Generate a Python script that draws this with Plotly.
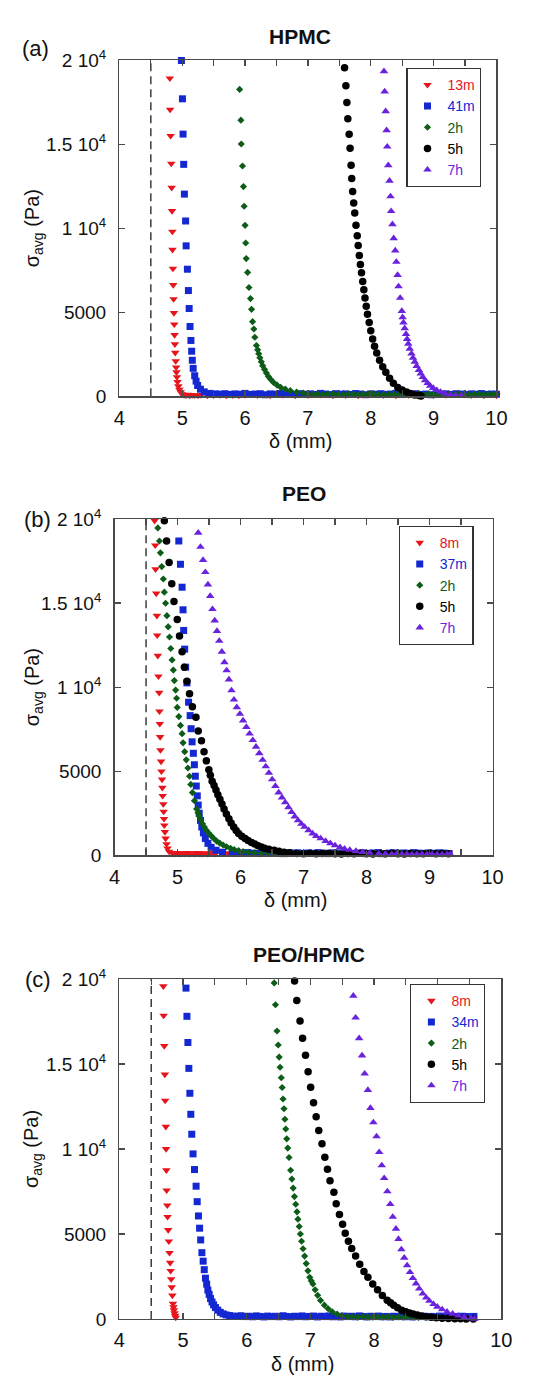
import plotly.graph_objects as go

# ---------------- data (delta in mm, sigma_avg in Pa) ----------------
x_range = [4, 10]
y_range = [0, 20000]
y_tick_vals = [0, 5000, 10000, 15000, 20000]
y_tick_text = ["0", "5000", "1 10<sup>4</sup>", "1.5 10<sup>4</sup>", "2 10<sup>4</sup>"]
ref_delta = 4.5

panel_titles = ["HPMC", "PEO", "PEO/HPMC"]
panel_tags = ["(a)", "(b)", "(c)"]
labels_a = ["13m", "41m", "2h", "5h", "7h"]
labels_b = ["8m", "37m", "2h", "5h", "7h"]
labels_c = ["8m", "34m", "2h", "5h", "7h"]

# ---- (a) HPMC ----
hpmc_13m = [(4.803,18920),(4.807,17060),(4.815,15500),(4.825,13850),(4.832,12410),(4.838,11030),(4.843,9800),
            (4.845,8720),(4.852,7600),(4.857,6620),(4.862,5780),(4.868,4960),(4.873,4280),(4.878,3650),(4.883,3100),
            (4.889,2590),(4.896,2090),(4.903,1720),(4.909,1430),(4.916,1140),(4.925,860),(4.938,600),(4.955,400),
            (4.975,240),(5.0,130),(5.03,80),(5.06,60),(5.09,90),(5.12,50),(5.16,70),(5.2,60),(5.25,40),(5.3,80),
            (5.4,50),(5.5,60),(5.6,70),(5.7,40),(5.8,60),(5.9,50),(6.0,80),(6.2,60),(6.4,40),(6.6,70),(6.8,50),
            (7.0,60),(7.2,90),(7.4,50),(7.6,60),(7.8,40),(8.0,120),(8.2,60),(8.4,40),(8.6,80),(8.8,50),(9.0,60),
            (9.2,70),(9.4,110),(9.6,60),(9.8,50),(10.0,40)]
hpmc_41m = [(4.987,19980),(5.003,17700),(5.013,15600),(5.023,13800),(5.034,12030),(5.054,10430),(5.062,8950),
            (5.082,7560),(5.098,6290),(5.11,5220),(5.124,4150),(5.138,3320),(5.15,2680),(5.16,2140),(5.174,1660),
            (5.198,1220),(5.22,900),(5.245,640),(5.29,420),(5.35,260),(5.43,170),(5.53,140),(5.6,120),(5.68,150),
            (5.76,110),(5.84,140),(5.92,120),(6.0,170),(6.08,110),(6.16,130),(6.24,150),(6.32,90),(6.4,140),
            (6.48,120),(6.56,160),(6.64,110),(6.72,130),(6.8,100),(6.88,150),(6.96,120),(7.04,140),(7.12,110),
            (7.2,170),(7.28,130),(7.36,100),(7.44,150),(7.52,120),(7.6,140),(7.68,110),(7.76,160),(7.84,130),
            (7.92,90),(8.0,140),(8.08,120),(8.16,150),(8.24,110),(8.32,130),(8.4,170),(8.48,100),(8.56,140),
            (8.64,120),(8.72,150),(8.8,110),(8.88,130),(8.96,90),(9.04,160),(9.12,120),(9.2,140),(9.28,110),
            (9.36,150),(9.44,130),(9.52,100),(9.6,140),(9.68,120),(9.76,160),(9.84,110),(9.92,130),(10.0,120)]
hpmc_2h = [(5.913,18260),(5.933,16430),(5.939,15010),(5.959,13700),(5.974,12475),(5.985,11306),(6.0,10170),
           (6.01,9120),(6.018,8190),(6.04,7370),(6.062,6470),(6.086,5810),(6.103,5170),(6.119,4440),(6.139,4000),
           (6.155,3510),(6.181,3020),(6.2,2760),(6.217,2530),(6.235,2290),(6.258,2050),(6.28,1820),(6.309,1600),
           (6.34,1380),(6.371,1170),(6.41,990),(6.453,820),(6.51,660),(6.566,530),(6.64,420),(6.72,330),(6.82,250),
           (6.926,195),(7.0,150),(7.08,110),(7.16,140),(7.24,100),(7.32,130),(7.4,150),(7.48,110),(7.56,90),
           (7.64,140),(7.72,120),(7.8,100),(7.88,130),(7.96,110),(8.04,150),(8.12,90),(8.2,120),(8.28,100),
           (8.36,140),(8.44,110),(8.52,130),(8.6,90),(8.68,120),(8.76,150),(8.84,100),(8.92,130),(9.0,110),
           (9.08,90),(9.16,140),(9.24,120),(9.32,100),(9.4,130),(9.48,110),(9.56,90),(9.64,120),(9.72,140),
           (9.8,100),(9.88,130),(9.96,110),(10.0,120)]
hpmc_5h = [(7.583,19550),(7.604,18480),(7.62,17485),(7.635,16510),(7.656,15595),(7.671,14756),(7.687,13743),
           (7.697,12965),(7.712,12185),(7.728,11503),(7.745,10900),(7.765,10180),(7.785,9550),(7.8,8965),
           (7.818,8380),(7.835,7836),(7.853,7349),(7.872,6823),(7.89,6336),(7.908,5848),(7.928,5361),(7.948,4873),
           (7.975,4386),(8.0,3899),(8.03,3411),(8.06,2982),(8.095,2573),(8.14,2144),(8.19,1754),(8.24,1423),
           (8.3,1072),(8.36,780),(8.43,526),(8.5,370),(8.57,250),(8.63,160),(8.7,80),(8.77,40),(8.8,20)]
hpmc_7h = [(8.21,19339),(8.221,18129),(8.237,16959),(8.252,15829),(8.262,14854),(8.278,13743),(8.298,12824),
           (8.314,11888),(8.324,11011),(8.345,10234),(8.365,9400),(8.39,8673),(8.407,7993),(8.427,7212),
           (8.442,6532),(8.468,5848),(8.494,5068),(8.507,4700),(8.52,4386),(8.54,4040),(8.561,3703),(8.578,3400),
           (8.597,3118),(8.62,2820),(8.648,2534),(8.672,2280),(8.7,2047),(8.73,1800),(8.766,1559),(8.795,1340),
           (8.828,1131),(8.865,950),(8.905,780),(8.945,620),(8.993,487),(9.05,360),(9.11,253),(9.18,160),
           (9.265,97),(9.35,60),(9.445,39)]

# ---- (b) PEO ----
peo_8m = [(4.636,19901),(4.646,18440),(4.651,17018),(4.662,15575),(4.672,14250),(4.677,13080),(4.687,11871),
          (4.697,10643),(4.708,9669),(4.713,8558),(4.718,7817),(4.723,7037),(4.728,6257),(4.738,5575),(4.744,4990),
          (4.754,4503),(4.759,4016),(4.764,3528),(4.774,3041),(4.779,2593),(4.785,2164),(4.79,1774),(4.8,1384),
          (4.81,994),(4.826,663),(4.841,409),(4.866,214),(4.918,117),(4.95,90),(4.99,130),(5.03,80),(5.07,120),
          (5.11,100),(5.15,140),(5.19,90),(5.23,120),(5.27,80),(5.31,130),(5.35,100),(5.39,90),(5.43,120),
          (5.47,80),(5.51,110),(5.55,130),(5.6,90),(5.7,100),(5.8,120),(5.9,80),(6.0,110),(6.15,130),(6.3,90),
          (6.45,100),(6.6,120),(6.75,80),(6.9,140),(7.05,90),(7.2,110),(7.35,130),(7.5,80),(7.65,100),(7.8,120),
          (7.95,90),(8.1,150),(8.25,100),(8.4,80),(8.55,130),(8.7,110),(8.85,90),(9.0,120),(9.15,100),(9.3,110)]
peo_37m = [(5.02,18696),(5.046,17310),(5.072,15945),(5.087,14600),(5.097,13372),(5.113,12261),(5.128,11187),
           (5.149,10253),(5.175,9100),(5.2,8304),(5.215,7524),(5.231,6744),(5.251,6062),(5.267,5380),(5.282,4698),
           (5.297,4113),(5.313,3528),(5.328,2982),(5.344,2495),(5.364,2066),(5.385,1676),(5.41,1325),(5.441,994),
           (5.482,702),(5.533,468),(5.61,292),(5.713,175),(5.867,117),(5.95,130),(6.03,110),(6.11,150),(6.19,120),
           (6.27,100),(6.35,140),(6.43,160),(6.51,110),(6.59,130),(6.67,90),(6.75,150),(6.83,120),(6.91,140),
           (6.99,100),(7.07,130),(7.15,110),(7.23,150),(7.31,120),(7.39,90),(7.47,140),(7.55,130),(7.63,110),
           (7.71,160),(7.79,100),(7.87,120),(7.95,140),(8.03,110),(8.11,130),(8.19,150),(8.27,90),(8.35,120),
           (8.43,140),(8.51,100),(8.59,130),(8.67,110),(8.75,150),(8.83,120),(8.91,100),(8.99,130),(9.07,110),
           (9.15,140),(9.23,120),(9.31,100)]
peo_2h = [(4.687,19474),(4.713,18696),(4.728,17992),(4.749,17173),(4.774,16433),(4.79,15653),(4.81,14990),
          (4.831,14250),(4.851,13587),(4.872,12982),(4.892,12300),(4.913,11618),(4.933,11014),(4.949,10390),
          (4.969,9825),(4.985,9337),(4.995,8791),(5.02,8245),(5.046,7719),(5.072,7232),(5.087,6686),(5.113,6160),
          (5.138,5673),(5.164,5185),(5.19,4698),(5.21,4211),(5.236,3723),(5.267,3236),(5.303,2749),(5.325,2520),
          (5.344,2320),(5.37,2090),(5.395,1871),(5.425,1670),(5.457,1481),(5.495,1310),(5.533,1150),(5.575,990),
          (5.62,838),(5.67,715),(5.723,604),(5.78,500),(5.841,409),(5.9,335),(5.969,273),(6.04,220),(6.123,175),
          (6.22,140),(6.328,117),(6.43,130),(6.53,100),(6.63,120),(6.73,90),(6.83,140),(6.93,110),(7.03,100),
          (7.13,130),(7.23,90),(7.33,120),(7.43,100),(7.53,140),(7.63,110),(7.73,90),(7.83,130),(7.93,120),
          (8.03,100),(8.13,110),(8.23,140),(8.33,90),(8.43,120),(8.53,130),(8.63,100),(8.73,110),(8.83,90),
          (8.93,140),(9.03,120),(9.13,100),(9.23,130),(9.3,110)]
peo_5h = [(4.79,19900),(4.826,18696),(4.866,17409),(4.908,16158),(4.943,15088),(4.995,14018),(5.031,13041),
          (5.072,12105),(5.108,11187),(5.149,10351),(5.19,9608),(5.236,8830),(5.292,8205),(5.328,7386),
          (5.38,6801),(5.42,6158),(5.457,5614),(5.497,5088),(5.52,4750),(5.549,4404),(5.58,4140),(5.61,3877),
          (5.64,3600),(5.672,3333),(5.705,3040),(5.738,2749),(5.775,2450),(5.815,2164),(5.85,1910),(5.892,1676),
          (5.93,1470),(5.969,1287),(6.02,1130),(6.072,994),(6.12,870),(6.174,760),(6.225,660),(6.277,567),
          (6.33,485),(6.38,409),(6.45,350),(6.534,292),(6.61,230),(6.688,175),(6.78,140),(6.892,99),(7.0,90),
          (7.1,110),(7.2,80),(7.3,100),(7.4,120),(7.5,90),(7.6,70),(7.7,100),(7.8,80),(7.9,110),(8.0,90),
          (8.1,70),(8.2,100),(8.3,80),(8.4,110),(8.5,90),(8.6,70),(8.7,100),(8.8,80),(8.9,90),(9.0,110),
          (9.1,80),(9.2,100),(9.3,90)]
peo_7h = [(5.328,19181),(5.364,18345),(5.405,17563),(5.441,16842),(5.482,16100),(5.518,15419),(5.554,14637),
          (5.59,13957),(5.626,13333),(5.662,12749),(5.703,12105),(5.744,11480),(5.779,10994),(5.815,10448),
          (5.856,9805),(5.895,9250),(5.94,8800),(5.99,8403),(6.04,8010),(6.092,7620),(6.143,7230),(6.194,6842),
          (6.245,6450),(6.297,6064),(6.35,5670),(6.4,5281),(6.45,4890),(6.502,4503),(6.553,4110),(6.605,3725),
          (6.657,3430),(6.708,3140),(6.76,2850),(6.81,2555),(6.86,2300),(6.912,2064),(6.965,1860),(7.015,1676),
          (7.08,1480),(7.143,1287),(7.2,1130),(7.271,994),(7.35,840),(7.425,702),(7.5,580),(7.579,468),
          (7.65,380),(7.733,310),(7.83,240),(7.938,175),(8.05,130),(8.194,99),(8.3,80),(8.4,60),(8.48,70),
          (8.56,50),(8.64,60),(8.72,40),(8.8,60),(8.88,50),(8.96,40),(9.04,60),(9.12,50),(9.2,40),(9.28,60),
          (9.33,50)]

# ---- (c) PEO/HPMC ----
mix_8m = [(4.69,19577),(4.695,17846),(4.705,16058),(4.714,14385),(4.719,12846),(4.729,11308),(4.733,10000),
          (4.738,8750),(4.742,7570),(4.752,6686),(4.757,6012),(4.767,5241),(4.777,4567),(4.787,3893),(4.797,3314),
          (4.805,2832),(4.813,2350),(4.822,1870),(4.832,1387),(4.842,906),(4.85,700),(4.857,520),(4.866,350),
          (4.875,193),(4.885,80)]
mix_34m = [(5.046,19462),(5.061,17803),(5.076,16262),(5.091,14740),(5.107,13276),(5.122,12040),(5.137,10867),
           (5.157,9711),(5.18,8790),(5.205,7810),(5.222,6900),(5.242,6060),(5.26,5340),(5.277,4650),(5.296,3900),
           (5.316,3400),(5.333,2900),(5.352,2400),(5.371,2050),(5.39,1700),(5.41,1450),(5.432,1200),(5.455,1000),
           (5.48,830),(5.51,670),(5.545,520),(5.585,390),(5.63,300),(5.676,240),(5.73,200),(5.79,170),(5.85,150),
           (5.91,190),(5.97,140),(6.03,160),(6.09,130),(6.15,180),(6.21,150),(6.27,120),(6.33,170),(6.39,140),
           (6.45,160),(6.51,130),(6.57,190),(6.63,150),(6.69,120),(6.75,160),(6.81,140),(6.87,180),(6.93,130),
           (6.99,150),(7.05,170),(7.11,120),(7.17,160),(7.23,140),(7.29,180),(7.35,130),(7.41,150),(7.47,120),
           (7.53,170),(7.59,140),(7.65,160),(7.71,130),(7.77,180),(7.83,150),(7.89,120),(7.95,160),(8.01,140),
           (8.07,170),(8.13,130),(8.19,150),(8.25,120),(8.31,160),(8.37,140),(8.43,180),(8.49,130),(8.55,150),
           (8.61,120),(8.67,170),(8.73,140),(8.79,160),(8.85,130),(8.91,150),(8.97,120),(9.03,170),(9.09,140),
           (9.15,160),(9.21,130),(9.27,150),(9.33,120),(9.39,160),(9.45,140),(9.51,130),(9.57,150)]
mix_2h = [(6.432,19769),(6.452,18481),(6.476,16942),(6.495,16115),(6.51,15404),(6.524,14808),(6.543,14192),
          (6.557,13615),(6.571,12942),(6.586,12365),(6.6,11750),(6.614,11173),(6.629,10596),(6.645,10050),
          (6.665,9500),(6.69,8750),(6.71,8230),(6.73,7700),(6.75,7200),(6.77,6750),(6.79,6300),(6.805,5870),
          (6.825,5440),(6.843,5000),(6.862,4570),(6.885,4130),(6.91,3700),(6.935,3260),(6.962,2830),(6.99,2450),
          (7.015,2240),(7.04,2060),(7.075,1720),(7.115,1390),(7.16,1090),(7.22,810),(7.28,600),(7.345,424),
          (7.42,290),(7.497,193),(7.58,150),(7.66,130),(7.74,110),(7.82,140),(7.9,120),(7.98,100),(8.06,130),
          (8.14,110),(8.22,140),(8.3,90),(8.38,120),(8.46,100),(8.54,130),(8.62,110),(8.7,90)]
mix_5h = [(6.752,19884),(6.787,18728),(6.838,17532),(6.878,16515),(6.924,15511),(6.965,14549),(7.005,13624),
          (7.05,12717),(7.091,11890),(7.132,11081),(7.183,10306),(7.228,9520),(7.269,8804),(7.309,8132),
          (7.37,7457),(7.406,6781),(7.457,6146),(7.507,5566),(7.548,5046),(7.598,4566),(7.65,4143),(7.711,3699),
          (7.776,3218),(7.842,2793),(7.904,2447),(7.98,2062),(8.056,1715),(8.132,1387),(8.208,1098),(8.26,950),
          (8.31,809),(8.37,660),(8.436,520),(8.5,420),(8.56,350),(8.614,289),(8.68,230),(8.75,180),(8.817,135),
          (8.9,100),(8.98,70),(9.071,39),(9.17,25),(9.27,15),(9.36,8),(9.45,0),(9.56,0)]
mix_7h = [(7.675,19012),(7.711,17726),(7.766,16512),(7.812,15491),(7.853,14432),(7.904,13468),(7.944,12409),
          (7.99,11561),(8.04,10735),(8.081,9810),(8.122,9035),(8.16,8280),(8.21,7500),(8.255,6750),(8.295,6000),
          (8.345,5300),(8.385,4700),(8.43,4090),(8.475,3600),(8.52,3150),(8.565,2750),(8.61,2400),(8.66,2080),
          (8.71,1780),(8.765,1490),(8.82,1250),(8.87,1060),(8.935,870),(8.995,713),(9.07,560),(9.147,424),
          (9.235,300),(9.325,193),(9.42,110),(9.528,39),(9.58,10)]

# ---------------- styling ----------------
W, H = 553, 1385
FONT = "Liberation Sans, Arial, Helvetica, sans-serif"
symbols = ["triangle-down", "square", "diamond", "circle", "triangle-up"]
colors = ["#e8141c", "#1428d2", "#0d5c17", "#000000", "#6a22dd"]
sizes = [7.5, 7, 5.5, 7.5, 7.5]
frame_color = "#4a4a4a"

# pixel boxes: (left, right, top, bottom) of each plot area
boxes = [(117, 506, 48, 390), (112, 502, 515, 857), (117, 511, 983, 1329)]
legend_pos = [(413, 56), (405, 522), (417, 988)]
title_pos = [(303, 24), (307, 489), (313, 958)]
tag_pos = [(30, 36), (33, 515), (33, 984)]

panel_series = [
    list(zip(labels_a, [hpmc_13m, hpmc_41m, hpmc_2h, hpmc_5h, hpmc_7h])),
    list(zip(labels_b, [peo_8m, peo_37m, peo_2h, peo_5h, peo_7h])),
    list(zip(labels_c, [mix_8m, mix_34m, mix_2h, mix_5h, mix_7h])),
]

def fx(p):
    return p / W

def fy(p):
    return 1 - p / H

fig = go.Figure()
layout = dict(width=W, height=H, margin=dict(l=0, r=0, t=0, b=0),
              paper_bgcolor="white", plot_bgcolor="white",
              font=dict(family=FONT, color="#111"), showlegend=True)
annotations = []
shapes = []

for i in range(3):
    sfx = "" if i == 0 else str(i + 1)
    xa, ya = "x" + sfx, "y" + sfx
    leg = "legend" + sfx
    l, r, t, b = boxes[i]
    for k, (lab, pts) in enumerate(panel_series[i]):
        xs = [p[0] for p in pts]
        ys = [p[1] for p in pts]
        fig.add_trace(go.Scatter(
            x=xs, y=ys, mode="markers", xaxis=xa, yaxis=ya, legend=leg,
            name='<span style="color:%s">%s</span>' % (colors[k], lab),
            marker=dict(symbol=symbols[k], color=colors[k], size=sizes[k], line=dict(width=0)),
            cliponaxis=False, hoverinfo="skip"))
    axis_common = dict(showline=True, linecolor=frame_color, linewidth=1.4, mirror="ticks",
                       ticks="inside", ticklen=6, tickwidth=1.2, tickcolor=frame_color,
                       showgrid=False, zeroline=False, fixedrange=True)
    layout["xaxis" + sfx] = dict(axis_common, domain=[fx(l), fx(r)], anchor=ya, range=x_range,
                                 tickmode="linear", tick0=4, dtick=1,
                                 minor=dict(dtick=0.5, ticks="inside", ticklen=6, tickwidth=1.2,
                                            tickcolor=frame_color, showgrid=False),
                                 tickfont=dict(size=20, family=FONT, color="#111"), ticklabelstandoff=3)
    layout["yaxis" + sfx] = dict(axis_common, domain=[fy(b), fy(t)], anchor=xa, range=y_range,
                                 tickmode="array", tickvals=y_tick_vals, ticktext=y_tick_text,
                                 tickfont=dict(size=19, family=FONT, color="#111"), ticklabelstandoff=8)
    lx, ly = legend_pos[i]
    layout[leg] = dict(x=fx(lx), y=fy(ly), xanchor="left", yanchor="top", xref="paper", yref="paper",
                       bgcolor="white", bordercolor="#333", borderwidth=1.2,
                       font=dict(size=14, family=FONT), tracegroupgap=0, itemclick=False,
                       itemdoubleclick=False)
    shapes.append(dict(type="line", xref=xa, yref=ya + " domain", x0=ref_delta, x1=ref_delta, y0=0, y1=1,
                       line=dict(color="#3c3c3c", width=1.5, dash="8px,5px"), layer="below"))
    tx, ty = title_pos[i]
    annotations.append(dict(text="<b>%s</b>" % panel_titles[i], x=fx(tx), y=fy(ty), xref="paper",
                            yref="paper", showarrow=False, xanchor="center", yanchor="middle",
                            font=dict(size=21, family=FONT, color="#111")))
    gx, gy = tag_pos[i]
    annotations.append(dict(text=panel_tags[i], x=fx(gx), y=fy(gy), xref="paper", yref="paper",
                            showarrow=False, xanchor="center", yanchor="middle",
                            font=dict(size=22, family=FONT, color="#111")))
    annotations.append(dict(text="\u03b4 (mm)", x=fx((l + r) / 2 - 8), y=fy(b + 46), xref="paper",
                            yref="paper", showarrow=False, xanchor="center", yanchor="middle",
                            font=dict(size=20, family=FONT, color="#111")))
    annotations.append(dict(text="\u03c3<sub>avg</sub> (Pa)", x=fx(28), y=fy((t + b) / 2), xref="paper",
                            yref="paper", showarrow=False, xanchor="center", yanchor="middle",
                            textangle=-90, font=dict(size=20, family=FONT, color="#111")))

layout["annotations"] = annotations
layout["shapes"] = shapes
fig.update_layout(**layout)

fig.write_html("out.html", config={"displayModeBar": False, "staticPlot": True},
               post_script="document.body.style.margin='0';")
